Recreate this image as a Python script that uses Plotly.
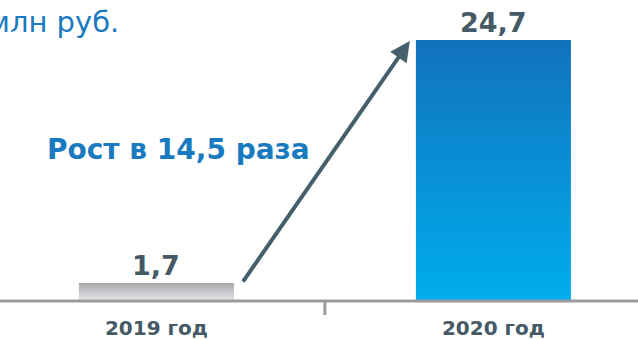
import plotly.graph_objects as go

categories = ["2019 год", "2020 год"]
values = [1.7, 24.7]
value_labels = ["1,7", "24,7"]
unit_label = "млн руб."
growth_label = "Рост в 14,5 раза"

bar_w = 0.46
grad_colors = [
    [[0, "#e9e9eb"], [1, "#a7a8ac"]],
    [[0, "#00adee"], [1, "#1172bc"]],
]

fig = go.Figure()
for i, v in enumerate(values):
    x0, x1 = i - bar_w / 2, i + bar_w / 2
    fig.add_trace(go.Scatter(
        x=[x0, x1, x1, x0, x0], y=[0, 0, v, v, 0],
        mode="lines", line=dict(width=0), fill="toself",
        fillgradient=dict(type="vertical", colorscale=grad_colors[i]),
        hoverinfo="skip", showlegend=False))

font_b = "DejaVu Sans"
dark = "#455a66"
blue = "#1a7abf"

for i, (v, t) in enumerate(zip(values, value_labels)):
    fig.add_annotation(x=i, y=v, text="<b>%s</b>" % t, showarrow=False,
                       yanchor="bottom", yshift=0,
                       font=dict(family=font_b, size=27, color=dark))

# growth arrow
fig.add_annotation(x=0.752, y=24.6, ax=0.254, ay=values[0], xref="x", yref="y",
                   axref="x", ayref="y", showarrow=True, arrowhead=2,
                   arrowsize=1, arrowwidth=4, arrowcolor="#455f6c", text="")
fig.add_annotation(x=178 / 638, y=1 - 150 / 301, xref="paper", yref="paper",
                   xanchor="center", yanchor="middle",
                   text="<b>%s</b>" % growth_label, showarrow=False,
                   font=dict(family=font_b, size=28, color=blue))
fig.add_annotation(x=121 / 638, y=1, xref="paper", yref="paper",
                   xanchor="right", yanchor="top", yshift=-3,
                   text=unit_label, showarrow=False,
                   font=dict(family=font_b, size=29, color=blue))

# axis baseline and middle tick
fig.add_shape(type="line", xref="paper", yref="paper", x0=0, x1=1, y0=0, y1=0,
              line=dict(color="#9b9b9f", width=3))
fig.add_shape(type="line", xref="x", yref="paper", x0=0.5, x1=0.5, y0=0,
              y1=-14 / 301, line=dict(color="#9b9b9f", width=3))

fig.update_layout(
    width=638, height=340, margin=dict(l=0, r=0, t=0, b=39),
    plot_bgcolor="white", paper_bgcolor="white",
    xaxis=dict(range=[-0.464, 1.429], tickvals=[0, 1], ticktext=["<b>%s</b>" % c for c in categories],
               showgrid=False, zeroline=False, showline=False, ticks="",
               ticklabelstandoff=13,
               tickfont=dict(family=font_b, size=20, color=dark), fixedrange=True),
    yaxis=dict(range=[0, 28.49], visible=False, fixedrange=True),
)
fig.write_html("out.html", config={"displayModeBar": False},
               post_script="document.body.style.margin='0';document.body.style.overflow='hidden';")
